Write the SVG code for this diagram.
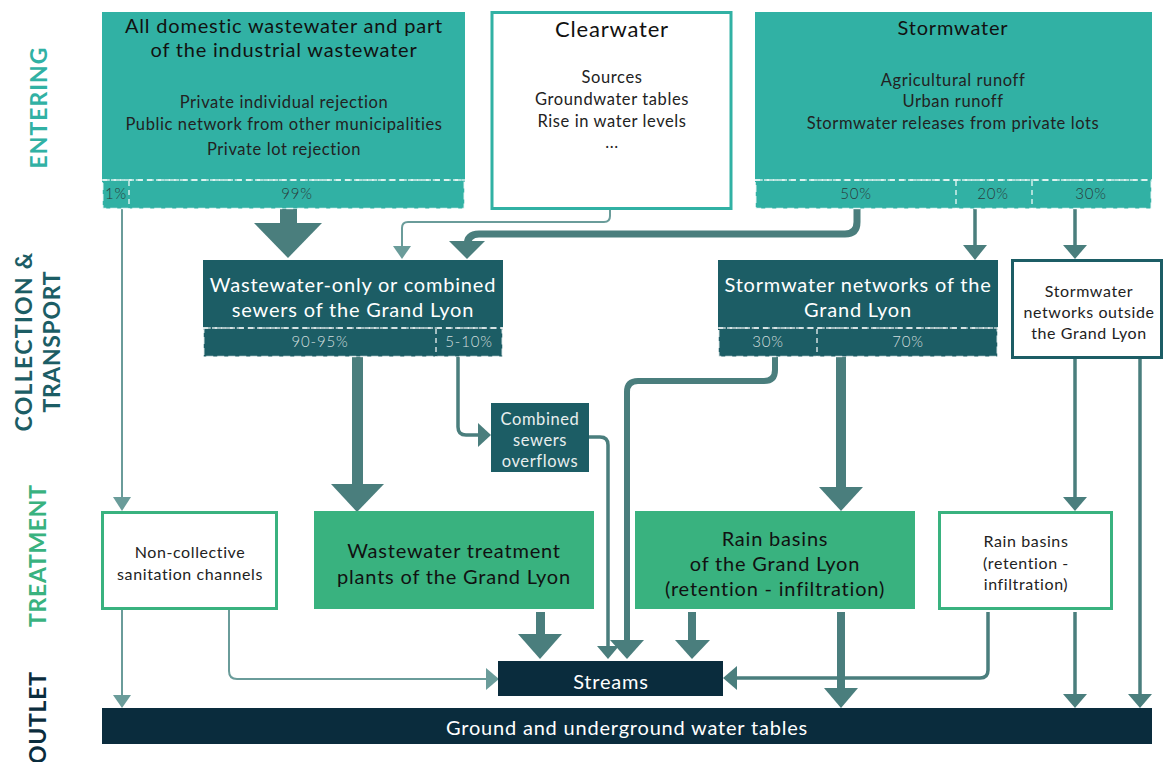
<svg xmlns="http://www.w3.org/2000/svg" width="1164" height="762" viewBox="0 0 1164 762">
<style>
  text { font-family: Lato, "Open Sans", "Liberation Sans", sans-serif; letter-spacing: 0.8px; }
  .side { font-weight: 700; font-size: 23px; text-anchor: middle; letter-spacing: 0; }
  .teal { fill: #31b1a4; }
  .dark { fill: #1c5d65; }
  .green { fill: #39b27f; }
  .navy { fill: #0a2c3d; }
  .band-teal { fill: #31b1a4; stroke: #ffffff; stroke-width: 1.5; stroke-dasharray: 7 4; stroke-opacity: 0.8; }
  .band-dark { fill: #1c5d65; stroke: #ffffff; stroke-width: 1.5; stroke-dasharray: 7 4; stroke-opacity: 0.75; }
  .div { stroke: #ffffff; stroke-width: 1.5; stroke-dasharray: 5 4; stroke-opacity: 0.8; }
  .wbox-teal { fill: #ffffff; stroke: #31b1a4; stroke-width: 3; }
  .wbox-green { fill: #ffffff; stroke: #39b27f; stroke-width: 3; }
  .wbox-dark { fill: #ffffff; stroke: #1c5d65; stroke-width: 3; }
  .t-title { font-size: 20px; fill: #111; text-anchor: middle; font-weight: 400; }
  .t-sub { font-size: 16.5px; fill: #222; text-anchor: middle; font-weight: 400; letter-spacing: 0.6px; }
  .t-pct { font-size: 15px; fill: #2a3a3a; text-anchor: middle; font-weight: 300; }
  .t-pct-l { font-size: 15px; fill: #d2dede; text-anchor: middle; font-weight: 300; }
  .t-white { font-size: 20px; fill: #ffffff; text-anchor: middle; font-weight: 400; }
  .t-white-s { font-size: 16.5px; fill: #e8eeee; text-anchor: middle; font-weight: 400; letter-spacing: 0.6px; }
  .t-dark-s { font-size: 16px; fill: #222; text-anchor: middle; font-weight: 400; letter-spacing: 0.6px; }
  .ln { fill: none; stroke: #4a7e7d; stroke-linejoin: round; }
  .thin { stroke: #6a9c9a; stroke-width: 2; }
  .med { stroke-width: 3.5; }
  .thick { stroke-width: 7; }
  .head { fill: #4a7e7d; }
  .head-thin { fill: #6a9c9a; }
</style>

<!-- side labels -->
<g id="labels">
  <text class="side" fill="#31b1a4" transform="translate(47,108) rotate(-90)" textLength="121">ENTERING</text>
  <text class="side" fill="#1c5d65" transform="translate(32,342) rotate(-90)" textLength="179">COLLECTION &amp;</text>
  <text class="side" fill="#1c5d65" transform="translate(60,342) rotate(-90)" textLength="141">TRANSPORT</text>
  <text class="side" fill="#39b27f" transform="translate(46,556) rotate(-90)" textLength="142">TREATMENT</text>
  <text class="side" fill="#0a2c3d" transform="translate(46,718) rotate(-90)" textLength="92">OUTLET</text>
</g>

<!-- connectors -->
<g id="connectors">
  <path class="ln thin" d="M122 209 V500"/>
  <polygon class="head-thin" points="113,497 131,497 122,511"/>
  <rect class="head" x="280" y="209" width="17" height="15"/>
  <polygon class="head" points="254,223 322,223 288,258"/>
  <path class="ln thin" d="M610 209 V216 Q610 222 604 222 H408 Q402 222 402 228 V248"/>
  <polygon class="head-thin" points="393,246 411,246 402,259"/>
  <path class="ln thick" d="M857 209 V222 Q857 234 845 234 H479 Q467 234 467 246"/>
  <polygon class="head" points="449,241 485,241 467,259"/>
  <path class="ln med" d="M975 209 V248"/>
  <polygon class="head" points="963,245 987,245 975,260"/>
  <path class="ln med" d="M1075 209 V248"/>
  <polygon class="head" points="1063,245 1087,245 1075,259"/>
  <rect class="head" x="352" y="357" width="11" height="128"/>
  <polygon class="head" points="331,484 384,484 357,512"/>
  <path class="ln med" d="M458 357 V427 Q458 435 466 435 H480"/>
  <polygon class="head" points="478,423 478,447 491,435"/>
  <path class="ln med" d="M589 437 H600 Q608 437 608 445 V648"/>
  <polygon class="head" points="597,646 619,646 608,659"/>
  <path class="ln" stroke-width="6" d="M775 357 V370 Q775 381 764 381 H638 Q627 381 627 392 V644"/>
  <polygon class="head" points="610,640 644,640 627,659"/>
  <rect class="head" x="836" y="357" width="10" height="131"/>
  <polygon class="head" points="819,487 863,487 841,511"/>
  <path class="ln med" d="M1075 358 V500"/>
  <polygon class="head" points="1063,497 1087,497 1075,511"/>
  <path class="ln med" d="M1140 358 V697"/>
  <polygon class="head" points="1128,694 1152,694 1140,708"/>
  <path class="ln thin" d="M122 609 V698"/>
  <polygon class="head-thin" points="113,695 131,695 122,708"/>
  <path class="ln thin" d="M229 609 V671 Q229 679 237 679 H488"/>
  <polygon class="head-thin" points="486,668 486,690 499,679"/>
  <rect class="head" x="536" y="612" width="9" height="24"/>
  <polygon class="head" points="518,634 562,634 540,659"/>
  <rect class="head" x="688" y="612" width="8" height="30"/>
  <polygon class="head" points="675,640 710,640 692,659"/>
  <rect class="head" x="837" y="612" width="8" height="78"/>
  <polygon class="head" points="824,688 858,688 841,708"/>
  <path class="ln med" d="M988 612 V670 Q988 678 980 678 H734"/>
  <polygon class="head" points="737,666 737,690 723,678"/>
  <path class="ln med" d="M1075 612 V697"/>
  <polygon class="head" points="1063,694 1087,694 1075,708"/>
</g>

<!-- entering row -->
<g id="domestic">
  <rect class="teal" x="102" y="12" width="363" height="170"/>
  <rect class="band-teal" x="102.75" y="180" width="361.5" height="28.5"/>
  <line class="div" x1="102" y1="180" x2="465" y2="180"/>
  <line class="div" x1="129" y1="181" x2="129" y2="209"/>
  <text class="t-title" x="284" y="33">All domestic wastewater and part</text>
  <text class="t-title" x="284" y="57">of the industrial wastewater</text>
  <text class="t-sub" x="284" y="108">Private individual rejection</text>
  <text class="t-sub" x="284" y="130">Public network from other municipalities</text>
  <text class="t-sub" x="284" y="155">Private lot rejection</text>
  <text class="t-pct" x="116" y="199">1%</text>
  <text class="t-pct" x="297" y="199">99%</text>
</g>

<g id="clearwater">
  <rect class="wbox-teal" x="492" y="12.5" width="239" height="196"/>
  <text class="t-title" x="612" y="37" style="font-size:22px">Clearwater</text>
  <text class="t-sub" x="612" y="83">Sources</text>
  <text class="t-sub" x="612" y="105">Groundwater tables</text>
  <text class="t-sub" x="612" y="127">Rise in water levels</text>
  <text class="t-sub" x="612" y="148">...</text>
</g>

<g id="stormwater">
  <rect class="teal" x="755" y="12" width="397" height="170"/>
  <rect class="band-teal" x="755.75" y="180" width="395.5" height="28.5"/>
  <line class="div" x1="755" y1="180" x2="1152" y2="180"/>
  <line class="div" x1="956" y1="181" x2="956" y2="209"/>
  <line class="div" x1="1032" y1="181" x2="1032" y2="209"/>
  <text class="t-title" x="953" y="35">Stormwater</text>
  <text class="t-sub" x="953" y="86">Agricultural runoff</text>
  <text class="t-sub" x="953" y="107">Urban runoff</text>
  <text class="t-sub" x="953" y="129">Stormwater releases from private lots</text>
  <text class="t-pct" x="856" y="199">50%</text>
  <text class="t-pct" x="993" y="199">20%</text>
  <text class="t-pct" x="1091" y="199">30%</text>
</g>

<!-- collection row -->
<g id="ww-sewers">
  <rect class="dark" x="203" y="260" width="300" height="70"/>
  <rect class="band-dark" x="203.75" y="328" width="298.5" height="28.5"/>
  <line class="div" x1="203" y1="328" x2="503" y2="328"/>
  <line class="div" x1="436" y1="329" x2="436" y2="357"/>
  <text class="t-white" x="353" y="292">Wastewater-only or combined</text>
  <text class="t-white" x="353" y="317">sewers of the Grand Lyon</text>
  <text class="t-pct-l" x="320" y="347">90-95%</text>
  <text class="t-pct-l" x="469" y="347">5-10%</text>
</g>

<g id="sw-networks">
  <rect class="dark" x="718" y="260" width="280" height="70"/>
  <rect class="band-dark" x="718.75" y="328" width="278.5" height="28.5"/>
  <line class="div" x1="718" y1="328" x2="998" y2="328"/>
  <line class="div" x1="817" y1="329" x2="817" y2="357"/>
  <text class="t-white" x="858" y="292">Stormwater networks of the</text>
  <text class="t-white" x="858" y="317">Grand Lyon</text>
  <text class="t-pct-l" x="768" y="347">30%</text>
  <text class="t-pct-l" x="908" y="347">70%</text>
</g>

<g id="sw-outside">
  <rect class="wbox-dark" x="1012.5" y="260.5" width="149" height="97"/>
  <text class="t-dark-s" x="1089" y="297">Stormwater</text>
  <text class="t-dark-s" x="1089" y="318">networks outside</text>
  <text class="t-dark-s" x="1089" y="339">the Grand Lyon</text>
</g>

<g id="cso">
  <rect class="dark" x="491" y="403" width="98" height="69"/>
  <text class="t-white-s" x="540" y="425">Combined</text>
  <text class="t-white-s" x="540" y="446">sewers</text>
  <text class="t-white-s" x="540" y="467">overflows</text>
</g>

<!-- treatment row -->
<g id="non-collective">
  <rect class="wbox-green" x="102.5" y="512.5" width="174" height="96"/>
  <text class="t-dark-s" x="190" y="558">Non-collective</text>
  <text class="t-dark-s" x="190" y="580">sanitation channels</text>
</g>

<g id="wwtp">
  <rect class="green" x="314" y="511" width="280" height="98"/>
  <text class="t-title" x="454" y="558">Wastewater treatment</text>
  <text class="t-title" x="454" y="584">plants of the Grand Lyon</text>
</g>

<g id="rain-gl">
  <rect class="green" x="635" y="511" width="280" height="98"/>
  <text class="t-title" x="775" y="546">Rain basins</text>
  <text class="t-title" x="775" y="571">of the Grand Lyon</text>
  <text class="t-title" x="775" y="596">(retention - infiltration)</text>
</g>

<g id="rain-right">
  <rect class="wbox-green" x="939.5" y="512.5" width="172" height="96"/>
  <text class="t-dark-s" x="1026" y="547">Rain basins</text>
  <text class="t-dark-s" x="1026" y="569">(retention -</text>
  <text class="t-dark-s" x="1026" y="590">infiltration)</text>
</g>

<!-- outlet row -->
<g id="streams">
  <rect class="navy" x="498" y="661" width="225" height="35"/>
  <text class="t-white" x="611" y="689">Streams</text>
</g>

<g id="ground">
  <rect class="navy" x="102" y="708" width="1050" height="36"/>
  <text class="t-white" x="627" y="735">Ground and underground water tables</text>
</g>
</svg>
